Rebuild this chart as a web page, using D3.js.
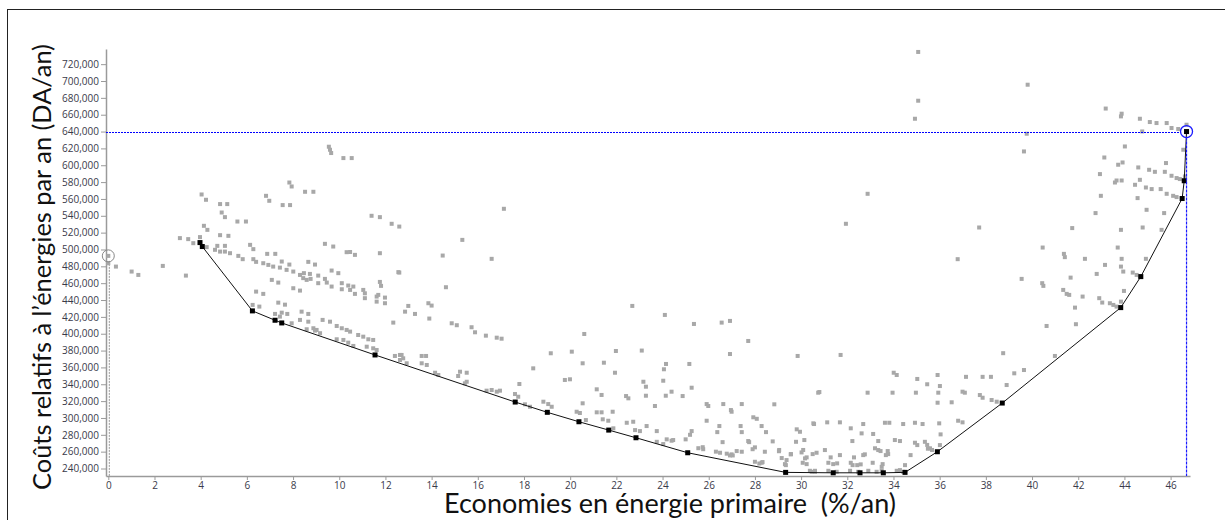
<!DOCTYPE html>
<meta charset="utf-8">
<script src="https://d3js.org/d3.v7.min.js"></script>
<style>
  body { margin: 0; background: #fff; }
  svg { display: block; }
</style>
<div id="my_dataviz"></div>
<script>
// tick values
var xTicks = d3.range(0, 47, 2);
var yTicks = d3.range(240000, 720001, 20000);

// all evaluated solutions : [economies (%/an), couts (milliers DA/an)]
var solutions = [
  [0,492.4],[0,483.7],[0.33,479.7],[1.01,473.8],[1.3,469.8],[2.36,480.5],[3.36,469],
  [3.1,513.5],[3.46,512.3],[3.68,507.5],[3.97,514.7],
  [9.55,622],[9.6,618.4],[9.65,614.5],[10.18,608.5],[10.54,608.5],
  [7.84,579.5],[7.94,574.8],[8.52,568.5],[8.88,568.5],
  [4.04,565.3],[4.23,559],[4.84,553.9],[5.15,553.9],
  [6.83,563.7],[6.97,557.8],[7.55,552.7],[7.87,552.7],
  [4.91,543.9],[5.05,538.4],[5.59,533.2],[5.96,533.2],
  [11.4,540],[11.76,538.4],[12.27,530.5],[12.6,527.2],
  [4.14,528.1],[4.29,523.3],[4.84,517],[5.2,516.2],
  [4.26,502.8],[4.62,499.6],[4.84,497.5],[5.05,497.5],[5.27,495.6],[4.72,504.3],[5.05,504.3],
  [5.63,492.4],[5.82,488.5],[6.28,488.5],[6.4,485.3],[6.71,483.7],[6.93,481.7],[7.14,479.7],
  [7.43,478.5],[7.72,475.8],[8.01,473.8],[8.3,469.8],[8.47,471.9],[8.73,471],
  [6.14,505.5],[6.28,500.4],[6.88,494.8],[7.23,494.8],
  [7.51,485.7],[7.84,482.1],[8.66,485.3],[8.95,482.1],
  [8.76,465.1],[9.09,460],[7.08,463.9],[7.36,460.7],[8.01,454],[8.3,451.2],
  [6.4,450],[6.71,447.3],[6.25,434.2],[6.54,432.2],[7.36,436.9],[7.65,434.5],
  [7.22,423.5],[7.51,425],[7.75,423.5],[7.43,420.3],[8.37,426.2],[8.66,423.5],
  [8.3,416.4],[8.66,414.3],[8.88,406.5],[9.02,404.5],[7.94,412.4],[8.59,405.3],
  [9.17,400.6],[8.95,403.7],
  [9.28,416.4],[9.6,414.3],[9.89,409.2],[10.11,406.5],[10.32,404.5],[10.47,402.5],
  [10.82,398.5],[11.04,396.5],[11.26,393.4],[11.47,392.6],
  [9.89,393.4],[10.18,392.6],[10.39,389.4],[10.61,385.5],[11.19,384.6],[11.47,382.7],[11.62,380.7],
  [12.34,413.2],[12.41,373.6],[12.63,374.8],[12.77,370.8],[12.92,364.9],
  [9.67,475],[9.96,471.9],[9.09,469],[9.38,465.1],
  [10.11,460],[10.39,457.2],[10.61,456],[11.04,452],[11.11,448],[11.62,444.1],[11.98,442.9],
  [11.69,446.1],[11.76,461.5],[11.81,456.8],
  [12.56,473.1],[12.99,433],[12.85,426.2],[13.28,423.5],[13.86,436.2],[14,433.4],[13.9,418],
  [10.47,497],[10.68,493.6],[11.76,495.6],[9.38,506.7],[9.74,503.5],[10.32,496.8],
  [17.13,548.3],[15.33,511.4],[14.48,492.8],[16.6,488.9],[14.62,455.2],[12.6,472.6],
  [8.44,466],[8.59,463.9],[9.46,460.7],[9.67,456],[10.11,452.8],[10.47,452],[10.68,447.3],
  [11.11,442.2],[11.62,438.1],[11.98,436.2],
  [14.87,412.4],[15.09,410.1],[15.73,407.7],[15.88,401.7],[16.35,397.7],[16.82,395.3],[17.03,394.1],
  [12.7,374.8],[12.63,368.8],[13.57,373.6],[13.76,373.6],[13.57,364.9],[13.79,362.9],
  [14.15,353.7],[14.29,351],[15.23,354.9],[15.52,353.7],[15.15,349.8],[15.52,343],[15.44,341.1],
  [16.38,332.4],[16.6,333.2],[16.82,331.2],[16.96,332.4],[17.61,328.4],[17.75,325.2],[17.8,340.3],
  [18.04,316.2],[18.26,313.3],[18.84,319.3],[19.05,316.5],[19.2,313.3],
  [18.4,358.9],[19.16,376.8],[19.77,345.1],[19.99,345.9],[20.07,378.7],[20.54,364.9],[20.61,399.7],
  [20.54,317.4],[20.28,307.4],[20.42,305.9],[20.68,297.5],
  [21.15,306.7],[21.36,306.7],[21.41,298.4],[21.65,296.7],[21.87,287.7],
  [21.46,365.6],[21.15,334],[21.36,327.3],[21.94,353.7],[21.98,379.5],[21.84,307.4],
  [22.42,326],[22.52,323.3],[22.45,294.3],[22.73,295.5],[22.81,285.6],[23.02,284.4],
  [22.69,433],[23.1,380],[23.17,343],[23.28,337.1],[23.28,326.4],[23.31,290.4],[23.67,314.2],[23.75,284.4],
  [24.1,422.3],[24.15,364.1],[24.06,357.8],[24.03,344.2],[24.14,326.4],[24.39,331.2],
  [23.75,271.7],[24.03,269],[24.18,274.6],[24.39,273],[24.46,273.8],
  [24.87,326],[25.16,364.1],[25.26,335.9],[25.36,411.6],
  [25,274.6],[25.19,280],[25.26,284.4],[25.55,264.1],[25.76,262.9],
  [25.91,316.5],[25.98,314.2],[25.91,296.7],[26.46,290.4],[26.37,283.2],
  [26.56,413.2],[26.63,316.5],[26.92,375.9],[26.99,307.4],[26.96,309.4],[26.92,415.2],
  [27.43,316.5],[27.38,290.4],[27.43,283.2],[27.71,391.4],[27.71,272.6],
  [27.93,300.8],[28.08,299],[28.29,290.4],[28.48,283.2],
  [27.9,262.9],[28.19,245.9],[28.33,247.6],
  [26.49,258.7],[26.78,257.6],[26.99,256.8],[27.21,260.7],[27.43,259.9],[26.31,260],
  [28.84,316.2],[28.77,272.2],[29.05,262],[29.3,245.2],[29.37,250],[29.56,257.1],
  [29.81,286.5],[29.95,283.6],[29.78,271.7],[30.14,273.8],[29.85,373.6],
  [30.09,262],[30.07,246.8],[30.17,252],[30.46,236.1],[30.6,236.1],
  [30.53,293.6],[30.74,330],[30.67,258.7],
  [31.71,374.8],[30.79,330.8],[32.88,330],[33.96,330],[34.97,330],[35.94,330],[35.91,318.1],[36.52,318.6],
  [36.99,331.2],[37.09,330],[37.74,327.2],[37.86,324],[38.25,321.3],[38.47,319.3],
  [36.8,296.7],[36.99,294.8],
  [30.56,292.8],[31.13,294.8],[31.68,294.8],[32.69,292.8],[32.62,281.7],[33.12,281],
  [33.63,294.3],[33.82,294.3],[34.42,292.8],[34.93,294.3],[35.26,292.8],[35.98,293.6],
  [32.15,287.7],[36.04,280.5],[34.06,273.8],[34.28,272.6],[34.93,270.6],[35.03,267.8],
  [35.36,271.7],[35.46,268],[35.58,264],[35.67,262],[35.49,263.5],[36.01,267.8],
  [32.22,272.6],[33.34,272.6],[33.2,264],[33.34,261.9],[33.44,260.7],[33.75,260.7],[33.77,257.1],[32.76,256.8],
  [30.38,237.3],[30.6,237.3],[31.18,237.3],[31.54,236.1],[32.12,237.3],[32.47,236.1],[32.91,237.3],
  [33.27,236.1],[33.49,237.3],[34.14,237.3],[34.42,236.1],
  [31.03,261.9],[31.18,246.8],[31.39,245.2],[31.56,246.1],[31.28,253.2],[31.68,255.9],
  [32.15,246.8],[32.23,244],[32.29,253.2],[32.43,244],[32.58,244.9],[32.69,255.9],[33.1,246.8],
  [33.53,245.2],[33.49,242],[33.67,255.9],[34.74,255.9],[34.5,244],[34.28,238.1],
  [30.02,259.1],[30.24,245.2],[30.24,253.2],[30.5,257.1],[29.55,256.8],[29.34,244],[29.04,260.5],[29.16,252.4],
  [28,265.1],[28.43,259.9],[28,248],[28.29,246.8],[26.6,271.3],[27.75,271.3],[25.74,265.3],[26.92,255.5],[27.04,255.5],
  [40.99,373.6],[38.75,376.9],[39.65,356.9],[39.23,353],[38.9,339.1],[37.86,348.8],[38.22,348.8],[37.14,348.8],
  [35.91,351],[36.01,337.9],[35.03,346.3],[35.46,340],[34.01,353.7],[34.14,351],
  [36.78,488.5],[31.94,530.5],[32.88,566.1],[37.71,526.1],
  [40.63,409.2],[41.9,411.3],[41.86,431],
  [40.44,460],[40.49,456.8],[41.35,452],[41.5,447.3],[41.61,446.1],[42.19,444.1],[42.91,442.2],[43.04,437],
  [43.37,436.2],[43.52,434.2],[43.66,432.2],[43.85,438.1],[43.98,450.8],
  [41.67,466.6],[42.8,471],[43.16,481.7],[43.85,479.7],[43.95,473.8],[44.36,472.6],[44.53,469.8],[44.67,468],
  [40.46,502.3],[41.38,494.8],[41.42,490.9],[42.29,488.9],[43.88,488.9],[44.93,488.9],[43.71,502.3],[39.55,465.1],
  [41.74,525.4],[43.85,523.3],[44.79,526.1],[45.61,523.3],[42.75,543.2],[44.96,547.1],[45.72,543.2],
  [42.98,563.7],[44.57,561],[42.94,589.5],[43.66,581.9],[43.59,579.5],[43.88,581.9],[44.67,582.7],[44.46,576.8],
  [44.93,573.6],[45.18,571.7],[45.57,571.7],[45.83,566.1],[46.11,563.7],[46.26,562.2],
  [43.73,600.6],[43.92,603.3],[45.8,602.6],[44.6,597.4],[45.07,594.6],[45.32,592.2],[45.75,592.2],
  [46.04,587.5],[46.26,584.8],[46.4,583.6],[46.55,618.4],[46.62,586.7],
  [43.13,609.2],[44.02,622.3],[44.77,640.1],
  [43.19,667.3],[43.88,661.2],[43.85,658],[44.67,655.2],[45.1,651.3],[45.39,650.1],[45.83,650.1],
  [46.04,644.2],[46.33,643],[46.69,648.1],
  [35.07,734.5],[35.07,676.6],[34.93,655.2],[39.81,695.6],[39.77,637.4],[39.65,616.4]
];

// front de Pareto (milliers DA/an)
var front = [
  [3.97,508.2],[4.07,503.5],[6.24,427.1],[7.22,416],[7.51,412.8],[11.55,374.8],
  [17.62,318.9],[19.01,306.7],[20.38,295.5],[21.67,285.6],[22.85,276.5],[25.09,258.7],
  [29.33,235.4],[31.39,234.9],[32.55,234.9],[33.56,234.9],[34.5,235.4],[35.9,259.9],
  [38.71,317.7],[43.84,431],[44.71,467.8],[46.5,560.5],[46.59,581.6],[46.69,640]
];

var selected = [46.69, 640];
var reference = [0, 492.4];

var W = 1225, H = 520;

var svg = d3.select("#my_dataviz")
  .append("svg")
    .attr("width", W)
    .attr("height", H);

// outer frame
svg.append("rect")
  .attr("x", 7.5).attr("y", 9.5)
  .attr("width", W + 20).attr("height", H + 20)
  .attr("fill", "none")
  .attr("stroke", "#222")
  .attr("stroke-width", 1);

var x = d3.scaleLinear()
  .domain([-0.1, 46.84])
  .range([106, 1190]);

var y = d3.scaleLinear()
  .domain([231100, 738000])
  .range([476, 49]);

// axes
var xAxis = svg.append("g")
  .attr("transform", "translate(0,476)")
  .call(d3.axisBottom(x).tickValues(xTicks).tickSize(4).tickPadding(2).tickSizeOuter(0));

var yAxis = svg.append("g")
  .attr("transform", "translate(106,0)")
  .call(d3.axisLeft(y).tickValues(yTicks).tickFormat(d3.format(",")).tickSize(5).tickPadding(2).tickSizeOuter(0));

[xAxis, yAxis].forEach(function(a) {
  a.select(".domain").attr("stroke", "#9a9a9a").attr("stroke-width", 1.5);
  a.selectAll(".tick line").attr("stroke", "#9a9a9a");
  a.selectAll("text")
    .attr("fill", "#3a3a4a")
    .style("font-family", "'Open Sans', sans-serif")
    .style("font-size", "10px");
});

// reference point marker (gray)
svg.append("line")
  .attr("x1", x(reference[0]) + 1).attr("x2", x(reference[0]) + 1)
  .attr("y1", y(reference[1] * 1000) + 5).attr("y2", 476)
  .attr("stroke", "#999")
  .attr("stroke-dasharray", "2,1");

// all solutions
svg.append("g")
  .selectAll("rect")
  .data(solutions)
  .enter().append("rect")
    .attr("x", function(d) { return x(d[0]) - 2; })
    .attr("y", function(d) { return y(d[1] * 1000) - 2; })
    .attr("width", 4)
    .attr("height", 4)
    .attr("fill", "#a8a8a8");

// pareto front line
var line = d3.line()
  .x(function(d) { return x(d[0]); })
  .y(function(d) { return y(d[1] * 1000); });

svg.append("path")
  .datum(front)
  .attr("d", line)
  .attr("fill", "none")
  .attr("stroke", "#111")
  .attr("stroke-width", 1);

svg.append("g")
  .selectAll("rect")
  .data(front)
  .enter().append("rect")
    .attr("x", function(d) { return x(d[0]) - 2.5; })
    .attr("y", function(d) { return y(d[1] * 1000) - 2.5; })
    .attr("width", 5)
    .attr("height", 5)
    .attr("fill", "#000");

svg.append("circle")
  .attr("cx", x(reference[0]))
  .attr("cy", y(reference[1] * 1000))
  .attr("r", 6)
  .attr("fill", "none")
  .attr("stroke", "#888");

// selected solution (blue)
var sx = x(selected[0]), sy = y(selected[1] * 1000);
var hy = Math.round(sy) + 0.5;

svg.append("line")
  .attr("x1", 106).attr("x2", sx - 6)
  .attr("y1", hy).attr("y2", hy)
  .attr("stroke", "#0000ff")
  .attr("stroke-dasharray", "2,1");

svg.append("line")
  .attr("x1", sx).attr("x2", sx)
  .attr("y1", sy + 6).attr("y2", 476)
  .attr("stroke", "#1a1aff")
  .attr("stroke-width", 1.2)
  .attr("stroke-dasharray", "3,1");

svg.append("circle")
  .attr("cx", sx).attr("cy", sy)
  .attr("r", 6)
  .attr("fill", "none")
  .attr("stroke", "#1a1aff")
  .attr("stroke-width", 1.3);

// axis titles, fitted to the width they take in the original
function fit(sel, target) {
  var w = sel.node().getComputedTextLength();
  var fs = parseFloat(sel.style("font-size"));
  sel.style("font-size", (fs * target / w) + "px");
}

var xt = svg.append("text")
  .attr("x", 670).attr("y", 513)
  .attr("text-anchor", "middle")
  .style("font-family", "Lato, sans-serif")
  .style("font-size", "24px")
  .style("white-space", "pre")
  .attr("fill", "#111")
  .text("Economies en énergie primaire  (%/an)");
fit(xt, 452);

var yt = svg.append("text")
  .attr("transform", "translate(51,267) rotate(-90)")
  .attr("text-anchor", "middle")
  .style("font-family", "Lato, sans-serif")
  .style("font-size", "24px")
  .attr("fill", "#111")
  .text("Coûts relatifs à l’énergies par an (DA/an)");
fit(yt, 446);
</script>
